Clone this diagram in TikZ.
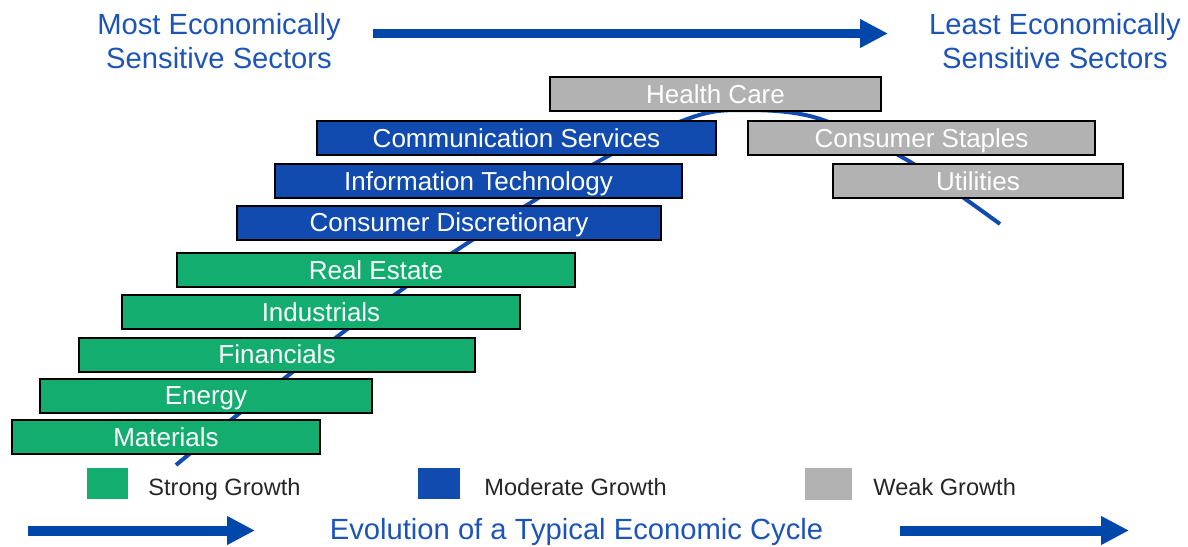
\documentclass[tikz,border=0pt]{standalone}
\usepackage{fontspec}
\setmainfont{Liberation Sans}
\usepackage{tikz}
\usetikzlibrary{arrows.meta}
\definecolor{sectgreen}{RGB}{18,173,111}
\definecolor{sectblue}{RGB}{17,75,175}
\definecolor{sectgray}{RGB}{178,178,178}
\definecolor{arrowblue}{RGB}{0,71,171}
\definecolor{titleblue}{RGB}{28,84,184}

\tikzset{
  sector/.style={draw=black, line width=1pt, text=white, inner sep=0pt,
    minimum height=17pt, text height=9.3pt, text depth=0pt,
    font=\fontsize{13}{15}\selectfont},
  strong/.style={sector, fill=sectgreen},
  moderate/.style={sector, fill=sectblue},
  weak/.style={sector, fill=sectgray},
  bigarrow/.style={arrowblue, line width=5pt, -{Triangle[length=14pt,width=13.5pt]}},
  headline/.style={text=titleblue, align=center, font=\fontsize{14.6}{17}\selectfont},
  keybox/.style={minimum width=20.5pt, minimum height=15.5pt, inner sep=0pt},
  keytext/.style={text=black!85, anchor=base west, inner sep=0pt,
    font=\fontsize{11.8}{14}\selectfont},
}

\begin{document}
\begin{tikzpicture}[x=0.5pt,y=-0.5pt]
  \useasboundingbox (0,0) rectangle (1188,546);
%%
  % Edge: cycle curve, behind the sectors
  \draw [sectblue, line width=2pt] plot [smooth, tension=0.55] coordinates
    {(176,465) (236,416) (290,374) (342,333) (400,291) (463,246) (601,160)
     (690,118) (743,110) (817,118) (907,160) (1000,224)};
  % Node: sectors, weak growth
  \node [weak, minimum width=165.5pt] (health) at (715.5,94) {Health Care};
  \node [weak, minimum width=173.5pt] (staples) at (921.5,138) {Consumer Staples};
  \node [weak, minimum width=145pt] (util) at (978,181) {Utilities};
  % Node: sectors, moderate growth
  \node [moderate, minimum width=199.5pt] (comm) at (516.5,138) {Communication Services};
  \node [moderate, minimum width=203.5pt] (infotech) at (478.5,181) {Information Technology};
  \node [moderate, minimum width=212pt] (discr) at (449,222.5) {Consumer Discretionary};
  % Node: sectors, strong growth
  \node [strong, minimum width=199pt] (realest) at (376,270) {Real Estate};
  \node [strong, minimum width=199pt] (indus) at (321,312) {Industrials};
  \node [strong, minimum width=198pt] (fin) at (277,354.5) {Financials};
  \node [strong, minimum width=166pt] (energy) at (206,395.5) {Energy};
  \node [strong, minimum width=154pt] (mat) at (166,437) {Materials};
  % Node: headings
  \node [headline] (most) at (219,41) {Most Economically\\Sensitive Sectors};
  \node [headline] (least) at (1055,41) {Least Economically\\Sensitive Sectors};
  \coordinate (topfrom) at (373,33.5);
  \coordinate (topto) at (888,33.5);
  % Edge: most -> least
  \draw [bigarrow, line width=4.75pt] (topfrom) -- (topto);
  % Node: legend
  \node [keybox, fill=sectgreen] (kstrong) at (107.5,483.5) {};
  \node [keytext] (tstrong) at (148,495) {Strong Growth};
  \node [keybox, fill=sectblue, minimum width=21pt] (kmod) at (439,483.5) {};
  \node [keytext] (tmod) at (484,495) {Moderate Growth};
  \node [keybox, fill=sectgray, minimum width=23.5pt, minimum height=16pt] (kweak) at (828.5,484) {};
  \node [keytext] (tweak) at (873,495) {Weak Growth};
  % Node: cycle caption
  \node [headline, anchor=base] (cycle) at (576.5,539) {Evolution of a Typical Economic Cycle};
  \coordinate (lfrom) at (28,530.5);
  \coordinate (lto) at (255,530.5);
  \coordinate (rfrom) at (900,530.5);
  \coordinate (rto) at (1129,530.5);
  % Edge: cycle arrows
  \draw [bigarrow] (lfrom) -- (lto);
  \draw [bigarrow] (rfrom) -- (rto);
%
\end{tikzpicture}
\end{document}
